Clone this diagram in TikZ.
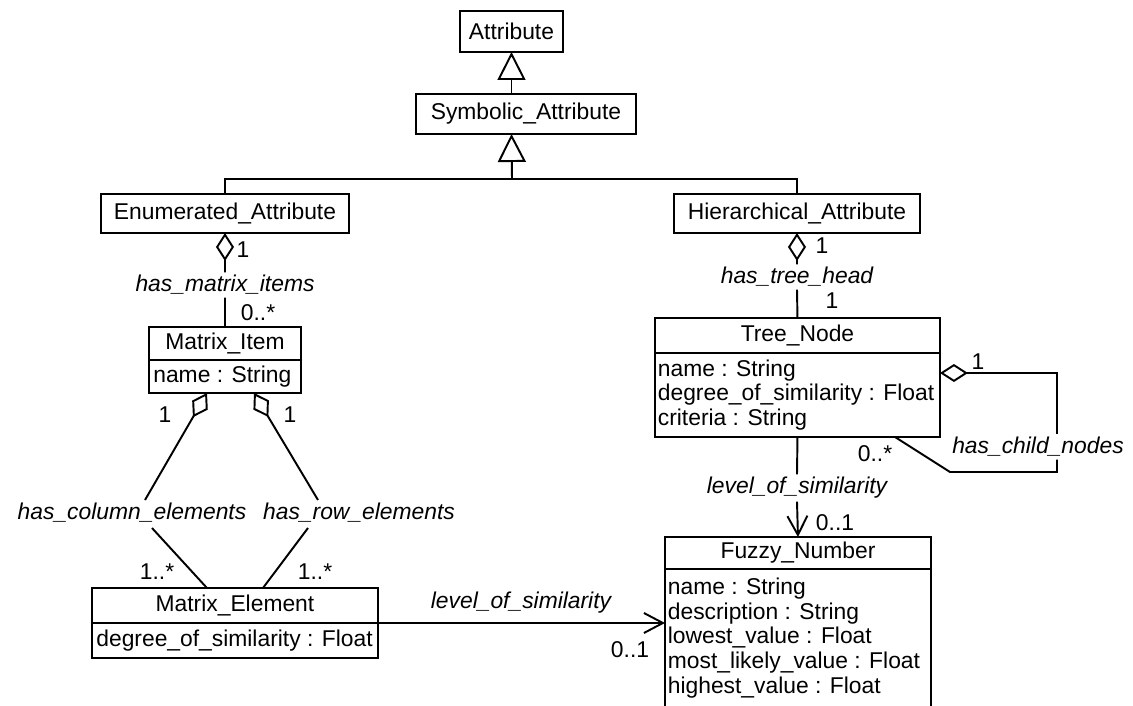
\documentclass[tikz,border=0pt]{standalone}
\usepackage{fontspec}
\setmainfont{Liberation Sans}
\usetikzlibrary{arrows.meta}
\begin{document}
\begin{tikzpicture}[x=0.02cm, y=-0.02cm,
  every node/.style={font=\fontsize{13}{14}\selectfont},
  cls/.style={draw, line width=1.1pt, inner sep=0pt, outer sep=0pt, anchor=north west},
  rows/.style={anchor=west, align=left, inner xsep=0.08cm, inner ysep=0pt},
  lbl/.style={font=\fontsize{13}{14}\selectfont\itshape, inner sep=1.5pt},
  mult/.style={inner sep=0pt},
  conn/.style={line width=1.1pt},
  gen/.style={conn, -{Triangle[open, length=0.56cm, width=0.56cm]}},
  agg/.style={conn, {Diamond[open, length=0.56cm, width=0.36cm]}-},
  nav/.style={conn, -{Straight Barb[length=0.38cm, width=0.4cm]}},
]
\useasboundingbox (0,0) rectangle (1133,706);
\clip (0,0) rectangle (1133,706);

% class boxes
\node[cls, minimum width=2.06cm, minimum height=0.82cm] (attr) at (460,11) {Attribute};
\node[cls, minimum width=4.4cm, minimum height=0.8cm] (sym) at (416,94) {Symbolic\_Attribute};
\node[cls, minimum width=4.96cm, minimum height=0.78cm] (enum) at (101,194) {Enumerated\_Attribute};
\node[cls, minimum width=4.92cm, minimum height=0.78cm] (hier) at (674,194) {Hierarchical\_Attribute};

\node[cls, minimum width=3.04cm, minimum height=0.66cm] (mi) at (149,327) {Matrix\_Item};
\node[cls, minimum width=3.04cm, minimum height=0.66cm] (mia) at (mi.south west) {};
\node[rows] (mia-t) at (mia.west) {name : String};

\node[cls, minimum width=5.7cm, minimum height=0.7cm] (tn) at (655,318) {Tree\_Node};
\node[cls, minimum width=5.7cm, minimum height=1.68cm] (tna) at (tn.south west) {};
\node[rows, inner xsep=0.05cm] (tna-t) at (tna.west) {name : String\\degree\_of\_similarity : Float\\criteria : String};

\node[cls, minimum width=5.72cm, minimum height=0.7cm] (me) at (92,588) {Matrix\_Element};
\node[cls, minimum width=5.72cm, minimum height=0.7cm] (mea) at (me.south west) {};
\node[rows] (mea-t) at (mea.west) {degree\_of\_similarity : Float};

\node[cls, minimum width=5.32cm, minimum height=0.64cm] (fz) at (665,537) {Fuzzy\_Number};
\node[cls, minimum width=5.32cm, minimum height=2.9cm] (fza) at (fz.south west) {};
\node[rows, inner xsep=0.05cm] (fza-t) at (fza.west |- 0,638) {name : String\\description : String\\lowest\_value : Float\\most\_likely\_value : Float\\highest\_value : Float};

% generalisation
\coordinate (join) at (512,179);
\draw[gen] (attr.south |- sym.north) -- (attr.south);
\draw[conn] (enum.north) |- (join) -| (hier.north);
\draw[gen] (join) -- (attr.south |- sym.south);

% Enumerated_Attribute -> Matrix_Item
\node[lbl] (hmi) at (225,285) {has\_matrix\_items};
\draw[agg] (enum.south) -- (hmi.north);
\draw[conn] (hmi.south) -- (mi.north);
\node[mult] (m-e1) at (243,250) {1};
\node[mult] (m-e2) at (258,313) {0..*};

% Hierarchical_Attribute -> Tree_Node
\node[lbl] (hth) at (797,277) {has\_tree\_head};
\draw[agg] (hier.south) -- (hth.north);
\draw[conn] (hth.south) -- (tn.north);
\node[mult] (m-h1) at (822,246) {1};
\node[mult] (m-h2) at (832,301) {1};

% Matrix_Item -> Matrix_Element
\node[lbl] (hce) at (132,513) {has\_column\_elements};
\node[lbl] (hre) at (359,513) {has\_row\_elements};
\coordinate (ce1) at (145,500);
\coordinate (ce2) at (152,528);
\coordinate (re1) at (318,500);
\coordinate (re2) at (308,528);
\draw[agg] ([xshift=-0.36cm]mia.south) -- (ce1);
\draw[conn] (ce2) -- ([xshift=-0.56cm]me.north);
\draw[agg] ([xshift=0.58cm]mia.south) -- (re1);
\draw[conn] (re2) -- ([xshift=0.56cm]me.north);
\node[mult] (m-c1) at (165,415) {1};
\node[mult] (m-r1) at (290,415) {1};
\node[mult] (m-c2) at (157,572) {1..*};
\node[mult] (m-r2) at (315,572) {1..*};

% Matrix_Element -> Fuzzy_Number
\node[lbl] (los1) at (521,603) {level\_of\_similarity};
\draw[nav] (me.south east) -- (me.south east -| fza.west);
\node[mult] (m-l1) at (630,650) {0..1};

% Tree_Node -> Fuzzy_Number
\node[lbl] (los2) at (797,488) {level\_of\_similarity};
\draw[conn] (tna.south) -- (los2.north);
\draw[nav] (los2.south) -- (fz.north);
\node[mult] (m-l2) at (835,523) {0..1};

% Tree_Node self association
\node[lbl] (hcn) at (1038,447) {has\_child\_nodes};
\coordinate (sl1) at (1057,373);
\coordinate (sl2) at (1057,472);
\coordinate (sl3) at (950,472);
\draw[agg] (tna.east |- sl1) -- (sl1) -- (sl1 |- hcn.north);
\draw[conn] (sl2 |- hcn.south) -- (sl2) -- (sl3) -- ([xshift=1.95cm]tna.south);
\node[mult] (m-s1) at (978,362) {1};
\node[mult] (m-s2) at (875,454) {0..*};
\end{tikzpicture}
\end{document}
